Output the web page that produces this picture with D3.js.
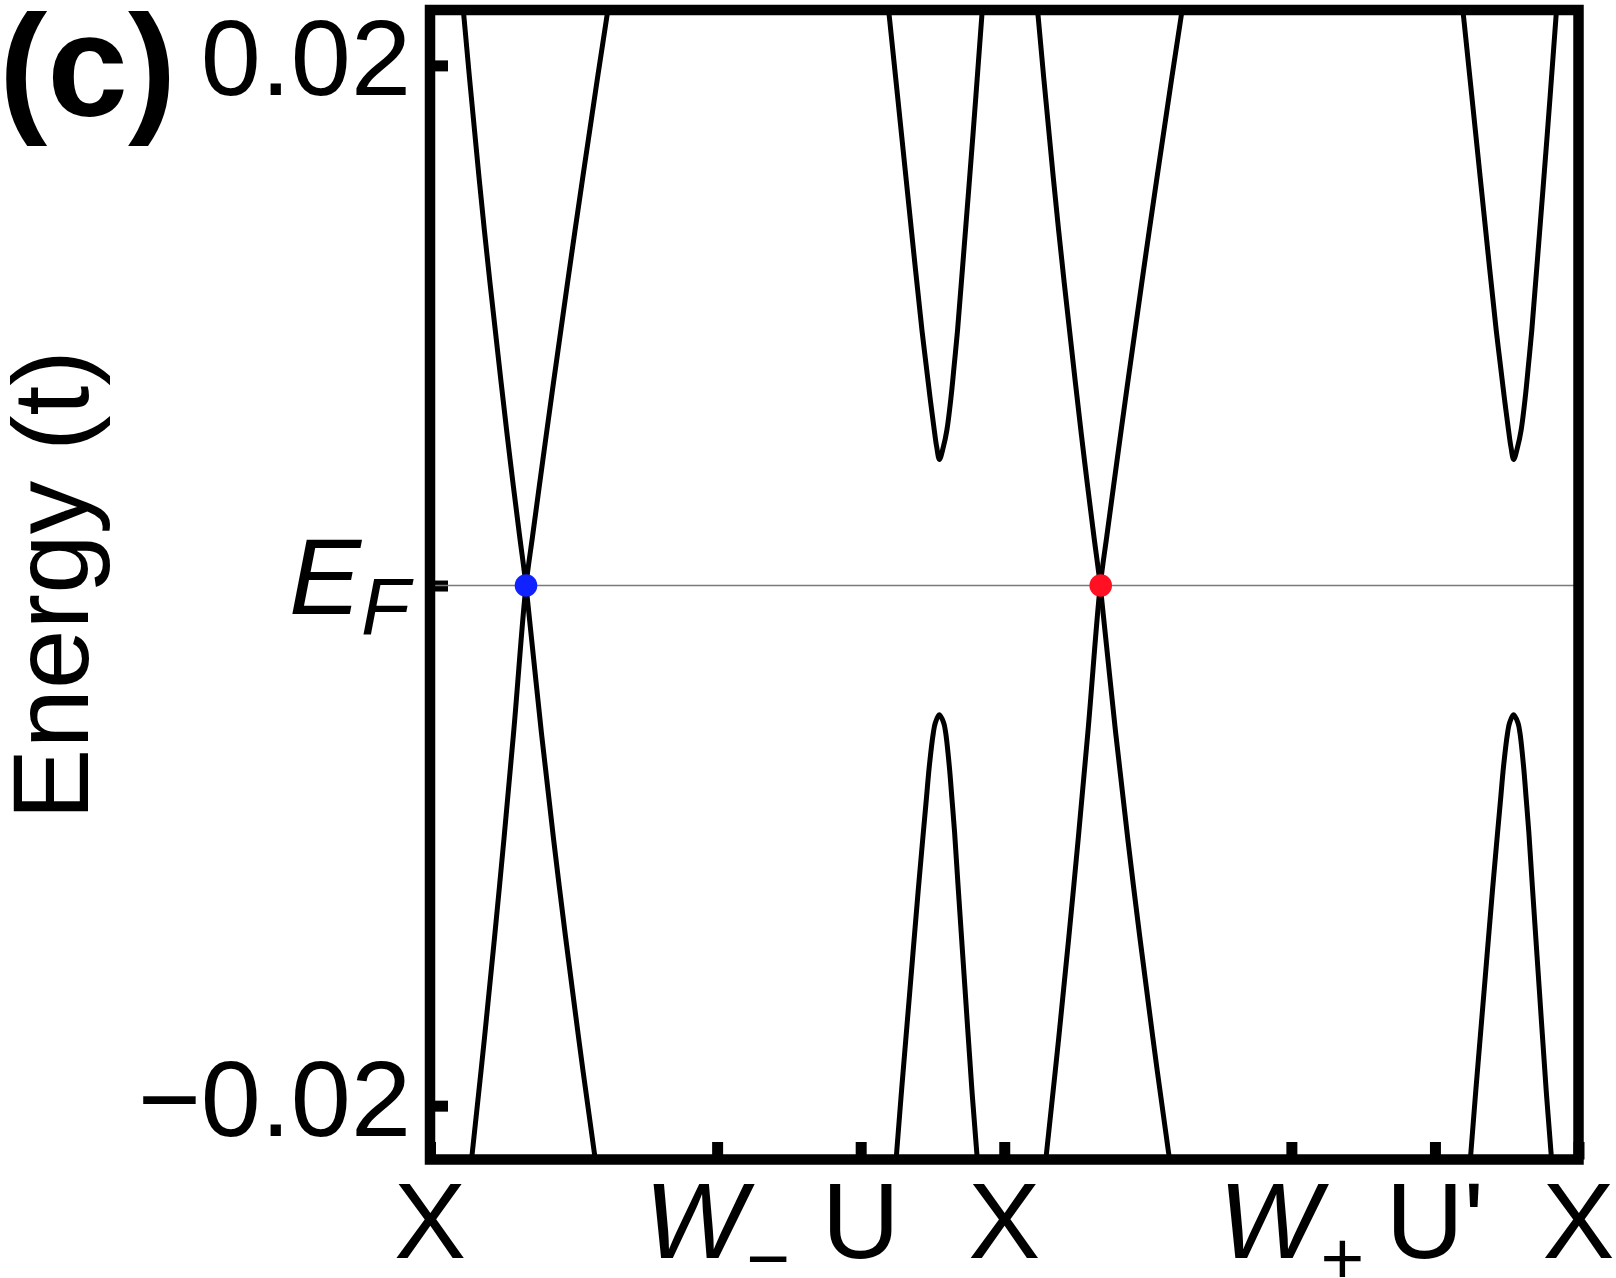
<!DOCTYPE html>
<html>
<head>
<meta charset="utf-8">
<script src="https://cdn.jsdelivr.net/npm/d3@7"></script>
<style>
  body { margin: 0; background: #fff; }
  svg { display: block; }
  text { font-family: "Liberation Sans", Arial, Helvetica, sans-serif; fill: #000; }
</style>
</head>
<body>
<div id="chart"></div>
<script>
// k-path ticks (X - W- - U - X - W+ - U' - X)
var kTicks = [0, 2, 3, 4, 6, 7, 8];
var kLabelMain = ["X", "W", "U", "X", "W", "U'", "X"];
var kLabelSub = ["", "\u2212", "", "", "+", "", ""];

// energy ticks
var eTicks = [-0.02, 0, 0.02];
var eTickLabels = ["\u22120.02", "E", "0.02"];

// bands, [k, E]
// first segment X -> W- -> U -> X
var bandFall1 = [[0.225, 0.0225], [0.2368, 0.02184], [0.2751, 0.01952], [0.3789, 0.01365], [0.4960, 0.00778],
  [0.5580, 0.00484], [0.6241, 0.00191], [0.6687, 0], [0.7760, -0.00566], [0.8993, -0.01152],
  [1.0351, -0.01739], [1.1445, -0.02180], [1.164, -0.0225]];
var bandRise1 = [[0.2825, -0.0225], [0.2947, -0.02180], [0.3796, -0.01739], [0.4848, -0.01152], [0.5823, -0.00566],
  [0.6687, 0], [0.7147, 0.00191], [0.7864, 0.00484], [0.8596, 0.00778], [1.0100, 0.01365],
  [1.1668, 0.01952], [1.2309, 0.02184], [1.2497, 0.0225]];
var bandUp1 = [[3.187, 0.0225], [3.2000, 0.02184], [3.2843, 0.01735], [3.3806, 0.01221], [3.4272, 0.00980],
  [3.4550, 0.00852], [3.4829, 0.00724], [3.5129, 0.00596], [3.5296, 0.00532], [3.5484, 0.00485],
  [3.5755, 0.00532], [3.5999, 0.00596], [3.6292, 0.00724], [3.6522, 0.00852], [3.6744, 0.00980],
  [3.7093, 0.01221], [3.7824, 0.01735], [3.8430, 0.02184], [3.852, 0.0225]];
var bandLow1 = [[3.2404, -0.0225], [3.2509, -0.02177], [3.2857, -0.01935], [3.3436, -0.01551], [3.4014, -0.01168],
  [3.4362, -0.00950], [3.4571, -0.00823], [3.4780, -0.00695], [3.5059, -0.00567], [3.5198, -0.00528],
  [3.5477, -0.00497], [3.5783, -0.00528], [3.5922, -0.00567], [3.6173, -0.00695], [3.6361, -0.00823],
  [3.6542, -0.00950], [3.6800, -0.01168], [3.7267, -0.01551], [3.7741, -0.01935], [3.8082, -0.02177],
  [3.8187, -0.0225]];

// second segment X -> W+ -> U' -> X
var bandFall2 = [[4.225, 0.0225], [4.2368, 0.02184], [4.2751, 0.01952], [4.3789, 0.01365], [4.4960, 0.00778],
  [4.5580, 0.00484], [4.6241, 0.00191], [4.6687, 0], [4.7760, -0.00566], [4.8993, -0.01152],
  [5.0351, -0.01739], [5.1445, -0.02180], [5.164, -0.0225]];
var bandRise2 = [[4.2825, -0.0225], [4.2947, -0.02180], [4.3796, -0.01739], [4.4848, -0.01152], [4.5823, -0.00566],
  [4.6687, 0], [4.7147, 0.00191], [4.7864, 0.00484], [4.8596, 0.00778], [5.0100, 0.01365],
  [5.1668, 0.01952], [5.2309, 0.02184], [5.2497, 0.0225]];
var bandUp2 = [[7.187, 0.0225], [7.2000, 0.02184], [7.2843, 0.01735], [7.3806, 0.01221], [7.4272, 0.00980],
  [7.4550, 0.00852], [7.4829, 0.00724], [7.5129, 0.00596], [7.5296, 0.00532], [7.5484, 0.00485],
  [7.5755, 0.00532], [7.5999, 0.00596], [7.6292, 0.00724], [7.6522, 0.00852], [7.6744, 0.00980],
  [7.7093, 0.01221], [7.7824, 0.01735], [7.8430, 0.02184], [7.852, 0.0225]];
var bandLow2 = [[7.2404, -0.0225], [7.2509, -0.02177], [7.2857, -0.01935], [7.3436, -0.01551], [7.4014, -0.01168],
  [7.4362, -0.00950], [7.4571, -0.00823], [7.4780, -0.00695], [7.5059, -0.00567], [7.5198, -0.00528],
  [7.5477, -0.00497], [7.5783, -0.00528], [7.5922, -0.00567], [7.6173, -0.00695], [7.6361, -0.00823],
  [7.6542, -0.00950], [7.6800, -0.01168], [7.7267, -0.01551], [7.7741, -0.01935], [7.8082, -0.02177],
  [7.8187, -0.0225]];

// Dirac points on E_F
var diracK = [0.6687, 4.6720];
var diracE = [0, 0];

var bands = [bandFall1, bandRise1, bandUp1, bandLow1, bandFall2, bandRise2, bandUp2, bandLow2];

var w = 1616;
var h = 1278;
var plotLeft = 430, plotRight = 1578.5, plotTop = 10, plotBottom = 1159.5;
var dotColors = ["#0f22ff", "#ff1123"];

var svg = d3.select("#chart")
			.append("svg")
			.attr("width", w)
			.attr("height", h);

var xScale = d3.scaleLinear()
				.domain([0, 8])
				.range([plotLeft, plotRight]);

var yScale = d3.scaleLinear()
				.domain([-0.02207, 0.02213])
				.range([plotBottom, plotTop]);

svg.append("clipPath")
	.attr("id", "plotclip")
	.append("rect")
	.attr("x", plotLeft)
	.attr("y", plotTop)
	.attr("width", plotRight - plotLeft)
	.attr("height", plotBottom - plotTop);

var line = d3.line()
			.x(function(d) { return xScale(d[0]); })
			.y(function(d) { return yScale(d[1]); })
			.curve(d3.curveCatmullRom.alpha(0.5));

svg.append("g")
	.attr("clip-path", "url(#plotclip)")
	.selectAll("path")
	.data(bands)
	.enter()
	.append("path")
	.attr("d", line)
	.attr("fill", "none")
	.attr("stroke", "#000")
	.attr("stroke-width", 5)
	.attr("stroke-linejoin", "round");

// ticks (inward)
var yAxis = svg.append("g")
			.attr("transform", "translate(" + plotLeft + ",0)")
			.call(d3.axisLeft(yScale).tickValues(eTicks).tickSize(-18).tickFormat(""));
yAxis.select(".domain").remove();
yAxis.selectAll("line").attr("stroke", "#000").attr("stroke-width", 11);

var xAxis = svg.append("g")
			.attr("transform", "translate(0," + plotBottom + ")")
			.call(d3.axisBottom(xScale).tickValues(kTicks).tickSize(-17.5).tickFormat(""));
xAxis.select(".domain").remove();
xAxis.selectAll("line").attr("stroke", "#000").attr("stroke-width", 11);

// Fermi level
svg.append("line")
	.attr("x1", plotLeft + 2)
	.attr("x2", plotRight - 2)
	.attr("y1", yScale(0))
	.attr("y2", yScale(0))
	.attr("stroke", "#7a7a7a")
	.attr("stroke-width", 1.5);

// frame
svg.append("rect")
	.attr("x", plotLeft)
	.attr("y", plotTop)
	.attr("width", plotRight - plotLeft)
	.attr("height", plotBottom - plotTop)
	.attr("fill", "none")
	.attr("stroke", "#000")
	.attr("stroke-width", 10.5);

// Dirac points
svg.selectAll("circle.dirac")
	.data(diracK)
	.enter()
	.append("circle")
	.attr("class", "dirac")
	.attr("cx", function(d) { return xScale(d); })
	.attr("cy", function(d, i) { return yScale(diracE[i]); })
	.attr("r", 11.3)
	.attr("fill", function(d, i) { return dotColors[i]; });

// y tick labels
eTicks.forEach(function(v, i) {
	var t = svg.append("text")
		.attr("y", yScale(v) + 30)
		.attr("font-size", 108);
	if (eTickLabels[i] === "E") {
		t.attr("x", 289).attr("y", yScale(v) + 28).attr("font-style", "italic");
		t.append("tspan").text("E");
		t.append("tspan").attr("font-size", 80).attr("dy", 20).text("F");
	} else {
		t.attr("x", 411).attr("text-anchor", "end").text(eTickLabels[i]);
	}
});

// x tick labels
kTicks.forEach(function(v, i) {
	var t = svg.append("text")
		.attr("x", xScale(v))
		.attr("y", 1258)
		.attr("font-size", 108)
		.attr("text-anchor", "middle");
	if (kLabelSub[i]) {
		t.append("tspan").attr("font-style", "italic").text(kLabelMain[i]);
		t.append("tspan").attr("font-size", 75).attr("dy", 26).text(kLabelSub[i]);
	} else {
		t.text(kLabelMain[i]);
	}
});

// axis title
svg.append("text")
	.attr("transform", "translate(88,585) rotate(-90)")
	.attr("text-anchor", "middle")
	.attr("font-size", 107)
	.text("Energy (t)");

// panel label
svg.append("text")
	.attr("x", -1)
	.attr("y", 116)
	.attr("font-size", 145)
	.attr("font-weight", "bold")
	.text("(c)");
</script>
</body>
</html>
